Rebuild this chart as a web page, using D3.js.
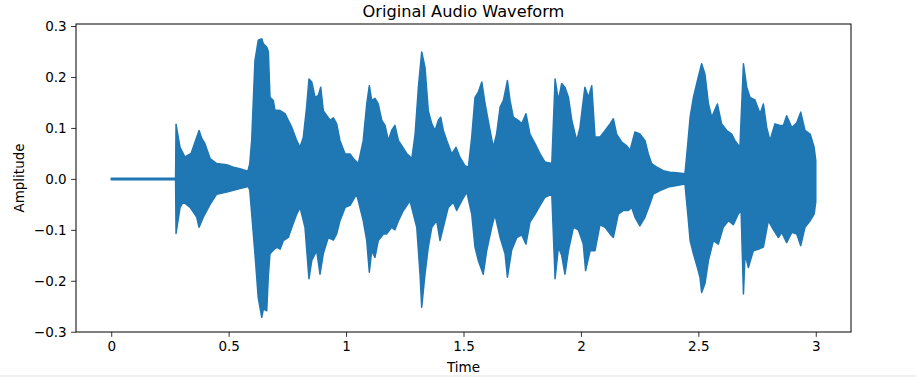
<!DOCTYPE html>
<html>
<head>
<meta charset="utf-8">
<script src="https://cdn.jsdelivr.net/npm/d3@7"></script>
<style>
    body { margin: 0; background: #fff; }
    text { font-family: "DejaVu Sans", sans-serif; fill: #000; }
</style>
</head>
<body>
<div id="chart"></div>
<script>
// envelope of the waveform (time in s, amplitude)
const upperTime = [0.0, 0.274, 0.276, 0.293, 0.314, 0.340, 0.374, 0.385, 0.399, 0.421, 0.449, 0.492, 0.520, 0.548, 0.582,
    0.590, 0.598, 0.612, 0.626, 0.641, 0.648, 0.662, 0.669, 0.676, 0.690, 0.697, 0.719, 0.740, 0.754, 0.769, 0.790, 0.804,
    0.818, 0.832, 0.842, 0.854, 0.868, 0.882, 0.892, 0.903, 0.918, 0.932, 0.946, 0.960, 0.974, 0.996, 1.017, 1.031, 1.052,
    1.073, 1.088, 1.099, 1.109, 1.123, 1.137, 1.152, 1.166, 1.180, 1.194, 1.208, 1.223, 1.237, 1.258, 1.280,
    1.294, 1.308, 1.322, 1.336, 1.350, 1.365, 1.379, 1.393, 1.403, 1.414, 1.429, 1.450, 1.468, 1.485, 1.506, 1.521,
    1.535, 1.549, 1.563, 1.578, 1.592, 1.613, 1.627, 1.641, 1.656, 1.670, 1.687, 1.698, 1.712, 1.733, 1.748, 1.766, 1.783, 1.805, 1.826, 1.847, 1.876,
    1.890, 1.904, 1.918, 1.932, 1.947, 1.961, 1.982, 1.996, 2.017, 2.032, 2.046, 2.060, 2.081, 2.103, 2.124, 2.138, 2.152, 2.174, 2.195, 2.209,
    2.230, 2.251, 2.273, 2.287, 2.301, 2.323, 2.351, 2.379, 2.408, 2.443,
    2.455, 2.465, 2.479, 2.496, 2.514, 2.528, 2.543, 2.557, 2.581, 2.599, 2.621, 2.642, 2.656, 2.677,
    2.692, 2.706, 2.720, 2.741, 2.763, 2.777, 2.791, 2.805, 2.826, 2.848, 2.862, 2.876, 2.898, 2.919, 2.936, 2.954, 2.976, 2.993, 3.000];
const upperAmp = [0.0015, 0.0015, 0.107, 0.062, 0.043, 0.05, 0.095, 0.08, 0.069, 0.04, 0.03, 0.028, 0.023, 0.02, 0.015,
    0.03, 0.075, 0.232, 0.272, 0.275, 0.265, 0.259, 0.25, 0.16, 0.154, 0.135, 0.134, 0.128, 0.115, 0.101, 0.075, 0.062,
    0.082, 0.141, 0.196, 0.19, 0.16, 0.164, 0.18, 0.134, 0.124, 0.115, 0.12, 0.108, 0.075, 0.049, 0.049, 0.04, 0.03,
    0.075, 0.147, 0.183, 0.154, 0.158, 0.147, 0.115, 0.105, 0.075, 0.095, 0.105, 0.075, 0.065, 0.05, 0.04,
    0.088, 0.18, 0.249, 0.219, 0.134, 0.108, 0.095, 0.115, 0.121, 0.095, 0.075, 0.049, 0.062, 0.042, 0.026, 0.023,
    0.082, 0.16, 0.17, 0.19, 0.147, 0.095, 0.062, 0.088, 0.141, 0.154, 0.193, 0.154, 0.121, 0.115, 0.108, 0.128, 0.088, 0.069, 0.049, 0.033, 0.03,
    0.196, 0.154, 0.187, 0.18, 0.16, 0.115, 0.075, 0.101, 0.18, 0.16, 0.183, 0.082, 0.082, 0.095, 0.108, 0.118, 0.088, 0.072, 0.065, 0.056,
    0.092, 0.088, 0.075, 0.049, 0.03, 0.023, 0.016, 0.013, 0.012, 0.01,
    0.069, 0.121, 0.16, 0.193, 0.226, 0.206, 0.147, 0.121, 0.147, 0.108, 0.095, 0.088, 0.075, 0.062,
    0.226, 0.18, 0.16, 0.155, 0.128, 0.147, 0.101, 0.075, 0.108, 0.105, 0.105, 0.124, 0.101, 0.11, 0.131, 0.095, 0.088, 0.062, 0.036];

const lowerTime = [0.0, 0.274, 0.276, 0.293, 0.307, 0.336, 0.364, 0.374, 0.392, 0.421, 0.449, 0.492, 0.548, 0.584,
    0.590, 0.598, 0.612, 0.626, 0.641, 0.648, 0.662, 0.669, 0.676, 0.690, 0.705, 0.719, 0.733, 0.754, 0.769, 0.790, 0.804,
    0.825, 0.842, 0.854, 0.875, 0.889, 0.903, 0.924, 0.946, 0.960, 0.974, 0.996, 1.017, 1.045,
    1.073, 1.088, 1.099, 1.109, 1.123, 1.137, 1.159, 1.173, 1.194, 1.208, 1.223, 1.244, 1.272,
    1.301, 1.315, 1.322, 1.336, 1.350, 1.365, 1.386, 1.400, 1.414, 1.435, 1.457, 1.471, 1.492, 1.514,
    1.535, 1.549, 1.563, 1.584, 1.599, 1.620, 1.634, 1.656, 1.677, 1.687, 1.705, 1.727, 1.748, 1.766, 1.783, 1.805, 1.826, 1.847, 1.876,
    1.890, 1.904, 1.918, 1.932, 1.947, 1.968, 1.989, 2.010, 2.020, 2.039, 2.060, 2.081, 2.103, 2.124, 2.138, 2.159, 2.181, 2.202, 2.216,
    2.230, 2.251, 2.273, 2.294, 2.308, 2.337, 2.372, 2.408, 2.443,
    2.455, 2.465, 2.479, 2.496, 2.507, 2.514, 2.528, 2.543, 2.564, 2.585, 2.606, 2.628, 2.649, 2.670, 2.682,
    2.692, 2.699, 2.713, 2.734, 2.755, 2.777, 2.798, 2.820, 2.841, 2.855, 2.876, 2.898, 2.919, 2.936, 2.954, 2.976, 2.993, 3.000];
const lowerAmp = [-0.0015, -0.0015, -0.107, -0.056, -0.045, -0.056, -0.075, -0.095, -0.075, -0.05, -0.03, -0.026, -0.019, -0.015,
    -0.023, -0.068, -0.147, -0.233, -0.272, -0.255, -0.259, -0.19, -0.147, -0.14, -0.134, -0.138, -0.121, -0.115, -0.095, -0.069, -0.056,
    -0.095, -0.196, -0.16, -0.141, -0.187, -0.147, -0.115, -0.12, -0.108, -0.082, -0.056, -0.052, -0.03,
    -0.082, -0.121, -0.183, -0.141, -0.154, -0.121, -0.108, -0.108, -0.095, -0.1, -0.082, -0.062, -0.043,
    -0.095, -0.187, -0.252, -0.187, -0.134, -0.095, -0.082, -0.121, -0.095, -0.056, -0.046, -0.062, -0.043, -0.026,
    -0.069, -0.134, -0.16, -0.187, -0.14, -0.095, -0.07, -0.115, -0.147, -0.193, -0.14, -0.115, -0.11, -0.128, -0.085, -0.069, -0.052, -0.036, -0.03,
    -0.196, -0.134, -0.15, -0.187, -0.14, -0.095, -0.1, -0.128, -0.18, -0.141, -0.141, -0.09, -0.095, -0.108, -0.115, -0.069, -0.062, -0.062, -0.056,
    -0.075, -0.092, -0.075, -0.049, -0.03, -0.023, -0.016, -0.013, -0.01,
    -0.069, -0.121, -0.147, -0.174, -0.193, -0.223, -0.206, -0.16, -0.121, -0.128, -0.095, -0.082, -0.09, -0.069, -0.062,
    -0.226, -0.147, -0.174, -0.141, -0.138, -0.134, -0.082, -0.1, -0.115, -0.105, -0.125, -0.105, -0.108, -0.131, -0.095, -0.082, -0.069, -0.045];

const xTicks = [0, 0.5, 1, 1.5, 2, 2.5, 3];
const xTickLabels = ["0", "0.5", "1", "1.5", "2", "2.5", "3"];
const yTicks = [-0.3, -0.2, -0.1, 0.0, 0.1, 0.2, 0.3];
const yTickLabels = ["\u22120.3", "\u22120.2", "\u22120.1", "0.0", "0.1", "0.2", "0.3"];

const width = 916;
const height = 377;
const plotLeft = 76, plotRight = 851, plotTop = 24, plotBottom = 332;

const svg = d3.select("#chart")
    .append("svg")
    .attr("width", width)
    .attr("height", height)
    .style("display", "block");

svg.append("rect").attr("width", width).attr("height", height).attr("fill", "#fff");

const x = d3.scaleLinear().domain([-0.15, 3.15]).range([plotLeft, plotRight]);
const y = d3.scaleLinear().domain([-0.3005, 0.304]).range([plotBottom, plotTop]);

// outline: upper envelope left to right, then lower envelope back
const upperPts = upperTime.map((t, i) => [t, upperAmp[i]]);
const lowerPts = lowerTime.map((t, i) => [t, lowerAmp[i]]).reverse();

const line = d3.line()
    .x(d => x(d[0]))
    .y(d => y(d[1]));

svg.append("path")
    .attr("d", line(upperPts.concat(lowerPts)) + "Z")
    .attr("fill", "#1f77b4")
    .attr("stroke", "#1f77b4")
    .attr("stroke-width", 1.5)
    .attr("stroke-linejoin", "round");

// axes
const xAxis = d3.axisBottom(x)
    .tickValues(xTicks)
    .tickFormat((d, i) => xTickLabels[i])
    .tickSize(4.9)
    .tickPadding(4.5)
    .tickSizeOuter(0);

const yAxis = d3.axisLeft(y)
    .tickValues(yTicks)
    .tickFormat((d, i) => yTickLabels[i])
    .tickSize(4.9)
    .tickPadding(4.5)
    .tickSizeOuter(0);

const gx = svg.append("g")
    .attr("transform", "translate(0," + plotBottom + ")")
    .call(xAxis);
const gy = svg.append("g")
    .attr("transform", "translate(" + plotLeft + ",0)")
    .call(yAxis);

[gx, gy].forEach(g => {
    g.select(".domain").remove();
    g.selectAll(".tick line").attr("stroke", "#000").attr("stroke-width", 0.8);
    g.selectAll(".tick text")
        .attr("fill", "#000")
        .style("font-family", "'DejaVu Sans', sans-serif")
        .style("font-size", "13.5px");
});

// frame
svg.append("rect")
    .attr("x", plotLeft)
    .attr("y", plotTop)
    .attr("width", plotRight - plotLeft)
    .attr("height", plotBottom - plotTop)
    .attr("fill", "none")
    .attr("stroke", "#000")
    .attr("stroke-width", 1);

svg.append("text")
    .attr("x", (plotLeft + plotRight) / 2)
    .attr("y", 17)
    .attr("text-anchor", "middle")
    .style("font-size", "16.2px")
    .text("Original Audio Waveform");

svg.append("text")
    .attr("x", (plotLeft + plotRight) / 2)
    .attr("y", 372)
    .attr("text-anchor", "middle")
    .style("font-size", "13.5px")
    .text("Time");

svg.append("text")
    .attr("transform", "translate(24," + (plotTop + plotBottom) / 2 + ") rotate(-90)")
    .attr("text-anchor", "middle")
    .style("font-size", "13.5px")
    .text("Amplitude");

svg.append("rect")
    .attr("x", 0)
    .attr("y", 375)
    .attr("width", width)
    .attr("height", 2)
    .attr("fill", "#f0f0f0");
</script>
</body>
</html>
